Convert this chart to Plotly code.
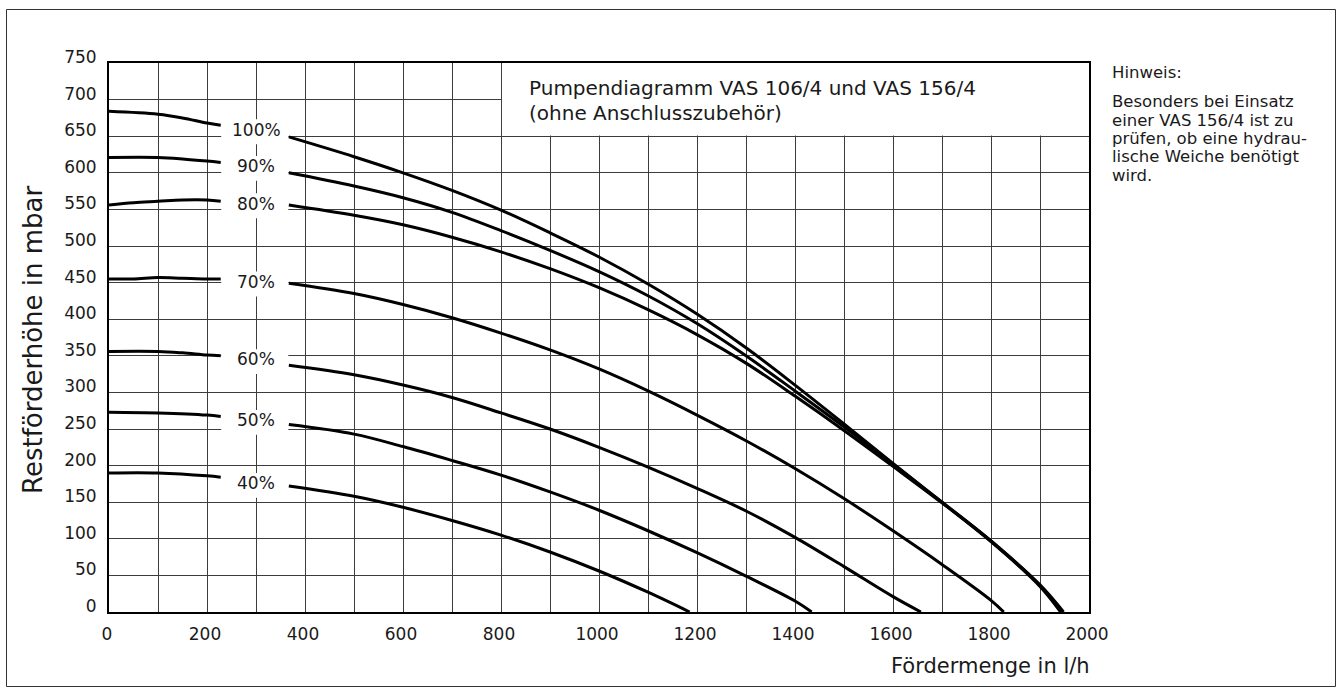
import plotly.graph_objects as go

# ---------------- data ----------------
speeds = ["100%", "90%", "80%", "70%", "60%", "50%", "40%"]

left_x = {
    "100%": [0, 100, 150, 200, 228],
    "90%":  [0, 100, 150, 200, 228],
    "80%":  [0, 50, 100, 150, 200, 228],
    "70%":  [0, 50, 100, 150, 200, 228],
    "60%":  [0, 100, 150, 200, 228],
    "50%":  [0, 100, 200, 228],
    "40%":  [0, 100, 200, 228],
}
left_y = {
    "100%": [684, 680, 675, 668, 665],
    "90%":  [621, 621, 619, 616, 614],
    "80%":  [556, 559, 561, 563, 563, 561],
    "70%":  [455, 455, 457, 456, 455, 455],
    "60%":  [356, 356, 354, 351, 350],
    "50%":  [273, 272, 269, 267],
    "40%":  [190, 190, 186, 184],
}
right_x = {
    "100%": [367, 500, 600, 700, 800, 900, 1000, 1100, 1200, 1300, 1400, 1500, 1600, 1700, 1800, 1900, 1948],
    "90%":  [367, 500, 600, 700, 800, 900, 1000, 1100, 1200, 1300, 1400, 1500, 1600, 1700, 1800, 1900, 1945],
    "80%":  [367, 500, 600, 700, 800, 900, 1000, 1100, 1200, 1300, 1400, 1500, 1600, 1700, 1800, 1900, 1942],
    "70%":  [367, 500, 600, 700, 800, 900, 1000, 1100, 1200, 1300, 1400, 1500, 1600, 1700, 1800, 1826],
    "60%":  [367, 500, 600, 700, 800, 900, 1000, 1100, 1200, 1300, 1400, 1500, 1600, 1657],
    "50%":  [367, 500, 600, 700, 800, 900, 1000, 1100, 1200, 1300, 1400, 1434],
    "40%":  [367, 500, 600, 700, 800, 900, 1000, 1100, 1185],
}
right_y = {
    "100%": [649, 622, 600, 576, 549, 518, 485, 448, 407, 361, 310, 257, 203, 150, 97, 37, 0],
    "90%":  [600, 582, 566, 546, 521, 494, 465, 432, 394, 350, 302, 253, 202, 150, 97, 36, 0],
    "80%":  [556, 542, 529, 512, 492, 469, 443, 413, 379, 340, 295, 248, 199, 149, 96, 35, 0],
    "70%":  [449, 435, 420, 402, 381, 358, 332, 302, 269, 234, 196, 155, 111, 65, 16, 0],
    "60%":  [337, 324, 310, 293, 272, 250, 225, 198, 169, 138, 102, 62, 21, 0],
    "50%":  [256, 243, 226, 207, 187, 164, 139, 111, 81, 49, 15, 0],
    "40%":  [172, 158, 143, 125, 105, 82, 56, 27, 0],
}

label_x = 300
label_y = {"100%": 659, "90%": 609, "80%": 558, "70%": 451, "60%": 345, "50%": 262, "40%": 176}

x_ticks = [0, 200, 400, 600, 800, 1000, 1200, 1400, 1600, 1800, 2000]
y_ticks = list(range(0, 751, 50))

title_lines = ["Pumpendiagramm VAS 106/4 und VAS 156/4", "(ohne Anschlusszubehör)"]
title_y = [716, 682]
hint_head = "Hinweis:"
hint_lines = ["Besonders bei Einsatz", "einer VAS 156/4 ist zu", "prüfen, ob eine hydrau-",
              "lische Weiche benötigt", "wird."]

x_title = "Fördermenge in l/h"
y_title = "Restförderhöhe in mbar"

FONT = "DejaVu Sans"
TXT = "#1a1a1a"

# ---------------- figure ----------------
W, H = 1338, 691
L, R, T, B = 109, 1089, 63, 612

fig = go.Figure()
for s in speeds:
    xs = left_x[s] + [None] + right_x[s]
    ys = left_y[s] + [None] + right_y[s]
    fig.add_trace(go.Scatter(x=xs, y=ys, mode="lines",
                             line=dict(color="black", width=3, shape="spline", smoothing=1.0),
                             connectgaps=False, showlegend=False, hoverinfo="skip"))

shapes = []
# white boxes behind speed labels (hide grid locally)
for s in speeds:
    yc = label_y[s]
    shapes.append(dict(type="rect", xref="x", yref="y", x0=229, x1=366, y0=yc - 20, y1=yc + 14,
                       fillcolor="white", line=dict(width=0), layer="between"))
# white box behind title
shapes.append(dict(type="rect", xref="x", yref="y", x0=802, x1=2000, y0=651, y1=750,
                   fillcolor="white", line=dict(width=0), layer="between"))


def px2paper_x(px):
    return (px - L) / (R - L)


def px2paper_y(py):
    return (B - py) / (B - T)


# outer frame
shapes.append(dict(type="rect", xref="paper", yref="paper",
                   x0=px2paper_x(6.5), x1=px2paper_x(1335.5), y0=px2paper_y(686.5), y1=px2paper_y(9.5),
                   line=dict(color="#333333", width=1), fillcolor="rgba(0,0,0,0)", layer="above"))

ann = []
for s in speeds:
    ann.append(dict(x=label_x, y=label_y[s], xref="x", yref="y", text=s, showarrow=False,
                    font=dict(family=FONT, size=17, color=TXT), xanchor="center", yanchor="middle"))
for t, yy in zip(title_lines, title_y):
    ann.append(dict(x=853, y=yy, xref="x", yref="y", text=t, showarrow=False,
                    font=dict(family=FONT, size=20, color=TXT), xanchor="left", yanchor="middle"))
ann.append(dict(x=px2paper_x(1110), y=px2paper_y(72), xref="paper", yref="paper", text=hint_head,
                showarrow=False, font=dict(family=FONT, size=16.5, color=TXT), xanchor="left", yanchor="middle"))
for i, t in enumerate(hint_lines):
    ann.append(dict(x=px2paper_x(1110), y=px2paper_y(102 + i * 18.3), xref="paper", yref="paper", text=t,
                    showarrow=False, font=dict(family=FONT, size=16.5, color=TXT), xanchor="left", yanchor="middle"))
ann.append(dict(x=px2paper_x(1092), y=px2paper_y(666), xref="paper", yref="paper", text=x_title,
                showarrow=False, font=dict(family=FONT, size=21, color=TXT), xanchor="right", yanchor="middle"))
ann.append(dict(x=px2paper_x(33), y=px2paper_y(340), xref="paper", yref="paper", text=y_title,
                showarrow=False, textangle=-90, font=dict(family=FONT, size=26, color=TXT),
                xanchor="center", yanchor="middle"))

grid = "#3c3c3c"
fig.update_layout(
    width=W, height=H,
    margin=dict(l=L, r=W - R, t=T, b=H - B, pad=0),
    paper_bgcolor="white", plot_bgcolor="white",
    shapes=shapes, annotations=ann,
    xaxis=dict(range=[0, 2000], tickvals=x_ticks, ticktext=[str(v) for v in x_ticks],
               showgrid=True, gridcolor=grid, gridwidth=1,
               minor=dict(dtick=100, showgrid=True, gridcolor=grid, gridwidth=1),
               showline=True, linecolor="black", linewidth=2, mirror=True, zeroline=False,
               ticks="", tickfont=dict(family=FONT, size=17, color=TXT),
               ticklabelstandoff=6, ticklabelshift=-2, fixedrange=True),
    yaxis=dict(range=[0, 750], tickvals=y_ticks, ticktext=[str(v) for v in y_ticks],
               showgrid=True, gridcolor=grid, gridwidth=1,
               showline=True, linecolor="black", linewidth=2, mirror=True, zeroline=False,
               ticks="", tickfont=dict(family=FONT, size=17, color=TXT),
               ticklabelstandoff=7, ticklabelshift=-6, fixedrange=True),
)

fig.write_html("out.html")
